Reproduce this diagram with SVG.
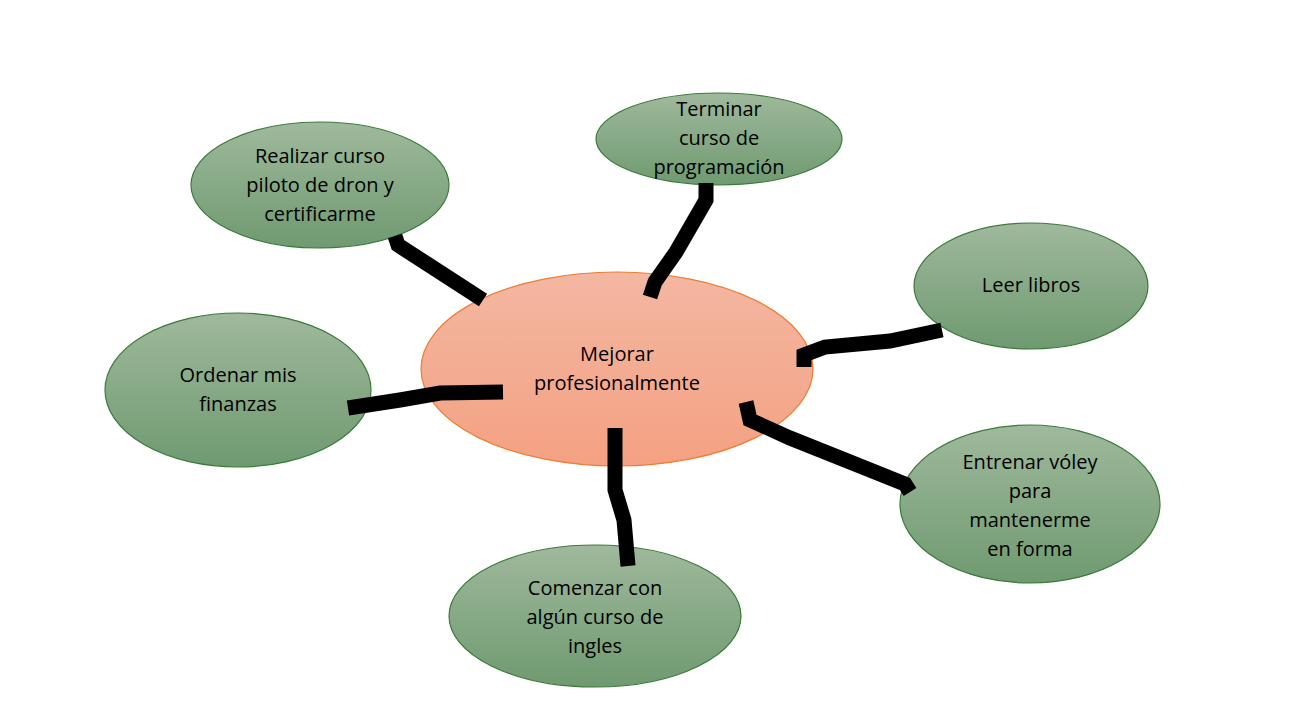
<svg xmlns="http://www.w3.org/2000/svg" width="1289" height="723" viewBox="0 0 1289 723">
<defs>
<linearGradient id="g" x1="0" y1="0" x2="0" y2="1"><stop offset="0" stop-color="#9fb99c"/><stop offset="1" stop-color="#6f9a70"/></linearGradient>
<linearGradient id="o" x1="0" y1="0" x2="0" y2="1"><stop offset="0" stop-color="#f3b7a2"/><stop offset="1" stop-color="#f4a182"/></linearGradient>
</defs>
<style>
.n{fill:url(#g);stroke:#3b7a3b;stroke-width:1.2}
.c{fill:url(#o);stroke:#ed7d31;stroke-width:1.2}
text{font-family:"Open Sans","Liberation Sans",sans-serif;font-size:20px;fill:#000;text-anchor:middle}
#connectors polyline{fill:none;stroke:#000;stroke-width:15;stroke-linejoin:miter}
</style>
<rect width="1289" height="723" fill="#fff"/>
<g id="center"><ellipse class="c" cx="617" cy="369" rx="196" ry="97"/><text x="617" y="361">Mejorar</text><text x="617" y="390">profesionalmente</text></g>
<g id="n1"><ellipse class="n" cx="719" cy="139" rx="123" ry="46"/><text x="719" y="116">Terminar</text><text x="719" y="145">curso de</text><text x="719" y="174">programación</text></g>
<g id="n2"><ellipse class="n" cx="320" cy="185" rx="129" ry="63"/><text x="320" y="163">Realizar curso</text><text x="320" y="192">piloto de dron y</text><text x="320" y="221">certificarme</text></g>
<g id="n3"><ellipse class="n" cx="1031" cy="286" rx="117" ry="63"/><text x="1031" y="292">Leer libros</text></g>
<g id="n4"><ellipse class="n" cx="238" cy="390" rx="133" ry="77"/><text x="238" y="382">Ordenar mis</text><text x="238" y="411">finanzas</text></g>
<g id="n5"><ellipse class="n" cx="1030" cy="504" rx="130" ry="79"/><text x="1030" y="469">Entrenar vóley</text><text x="1030" y="498">para</text><text x="1030" y="527">mantenerme</text><text x="1030" y="556">en forma</text></g>
<g id="n6"><ellipse class="n" cx="595" cy="616" rx="146" ry="71"/><text x="595" y="595">Comenzar con</text><text x="595" y="624">algún curso de</text><text x="595" y="653">ingles</text></g>
<g id="connectors">
<polyline points="395,236 398,245 483,300"/>
<polyline points="706,183 706,200 676,252 655,282 650,297"/>
<polyline points="942,330 890,341 825,347 804,355 804,367"/>
<polyline points="503,392 440,393 400,400 348,408"/>
<polyline points="746,402 750,420 790,438 850,462 905,484 910,492"/>
<polyline points="615,428 615,490 624,520 628,566"/>
</g>
</svg>
